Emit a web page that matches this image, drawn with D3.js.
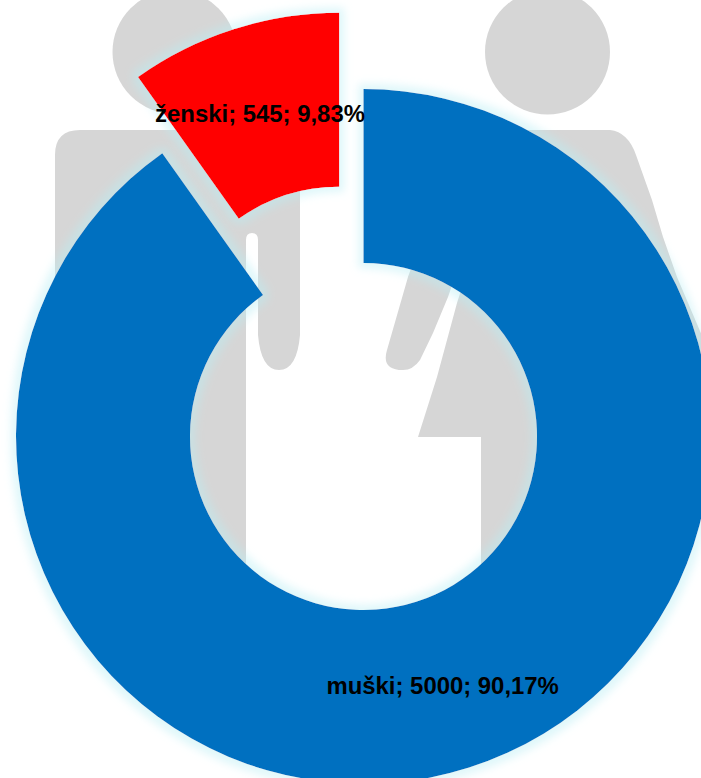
<!DOCTYPE html>
<html>
<head>
<meta charset="utf-8">
<script src="https://cdn.jsdelivr.net/npm/d3@7/dist/d3.min.js"></script>
<style>
html,body{margin:0;padding:0;background:#fff;overflow:hidden}
svg{display:block}
text{font-family:"Liberation Sans",Arial,sans-serif;font-weight:700;font-size:23.9px;fill:#000}
</style>
</head>
<body>
<svg id="chart" width="701" height="778"></svg>
<script>
const categories = ["muški", "ženski"];
const seriesValues = [5000, 545];
const seriesColors = ["#0070c0", "#ff0000"];
const explodeOffsets = [0, 80];

const width = 701, height = 778;
const center = [363.5, 436.5];
const outerRadius = 347.5, innerRadius = 173.5;

const svg = d3.select("#chart");

// glow filter
const defs = svg.append("defs");
const glow = defs.append("filter").attr("id", "glow")
  .attr("x", "-10%").attr("y", "-10%").attr("width", "120%").attr("height", "120%");
glow.append("feMorphology").attr("in", "SourceAlpha").attr("operator", "dilate").attr("radius", 5).attr("result", "d");
glow.append("feGaussianBlur").attr("in", "d").attr("stdDeviation", 4).attr("result", "b");
glow.append("feFlood").attr("flood-color", "#b8eef4").attr("flood-opacity", 0.45).attr("result", "f");
glow.append("feComposite").attr("in", "f").attr("in2", "b").attr("operator", "in").attr("result", "g");
const merge = glow.append("feMerge");
merge.append("feMergeNode").attr("in", "g");
merge.append("feMergeNode").attr("in", "SourceGraphic");

defs.append("filter").attr("id", "soft").append("feGaussianBlur").attr("stdDeviation", 0.7);

// background picture: two pictogram figures
const bg = svg.append("g").attr("fill", "#d6d6d6").attr("filter", "url(#soft)");
const figureHeads = [[174.5, 52, 62], [547.5, 52, 62.5]];
bg.selectAll("circle").data(figureHeads).join("circle")
  .attr("cx", d => d[0]).attr("cy", d => d[1]).attr("r", d => d[2]);
const figurePaths = [
  // man
  "M80,130 H275 Q300,130 300,155 V335 Q297,370 279,370 Q261,370 258,335 V240 Q258,233 252,233 Q246,233 246,240 V640 H109 V240 Q109,233 103,233 Q97,233 97,240 V335 Q94,370 76,370 Q58,370 55,335 V155 Q55,130 80,130 Z",
  // woman
  "M502,130 H610 Q628,132 636,155 L652,200 L663,237 L677,277 L708,350 Q714,370 692,370 Q680,370 675,360 L647,297 L635,262 L625,262 L638,303 L657,377 L677,437 H614 V640 H481 V437 H418 L437,377 L457,303 L470,262 L460,262 L448,297 L433,333 L420,360 Q413,370 403,370 Q381,370 387,350 L408,277 L430,215 L459,155 Q467,132 485,130 Z"
];
bg.selectAll("path").data(figurePaths).join("path").attr("d", d => d);

// donut
const pie = d3.pie().sort(null).value(d => d.value);
const rows = categories.map((c, i) => ({name: c, value: seriesValues[i], color: seriesColors[i], explode: explodeOffsets[i]}));
const arcs = pie(rows);
const total = d3.sum(seriesValues);
const arc = d3.arc().innerRadius(innerRadius).outerRadius(outerRadius);

const scale = d3.scaleLinear().domain([0, total]).range([0, 100]);
const fmt = d3.formatLocale({decimal: ",", thousands: ".", grouping: [3], currency: ["", ""]}).format(".2f");

function shift(d) {
  const a = (d.startAngle + d.endAngle) / 2;
  return [center[0] + Math.sin(a) * d.data.explode, center[1] - Math.cos(a) * d.data.explode];
}

svg.append("g").selectAll("path").data(arcs).join("path")
  .attr("transform", d => `translate(${shift(d)})`)
  .attr("d", arc)
  .attr("fill", d => d.data.color)
  .attr("filter", "url(#glow)");

svg.append("g").selectAll("text").data(arcs).join("text")
  .attr("text-anchor", "middle")
  .attr("dominant-baseline", "central")
  .attr("x", d => shift(d)[0] + arc.centroid(d)[0])
  .attr("y", d => shift(d)[1] + arc.centroid(d)[1] + 1)
  .text(d => `${d.data.name}; ${d.data.value}; ${fmt(scale(d.data.value))}%`);
</script>
</body>
</html>
